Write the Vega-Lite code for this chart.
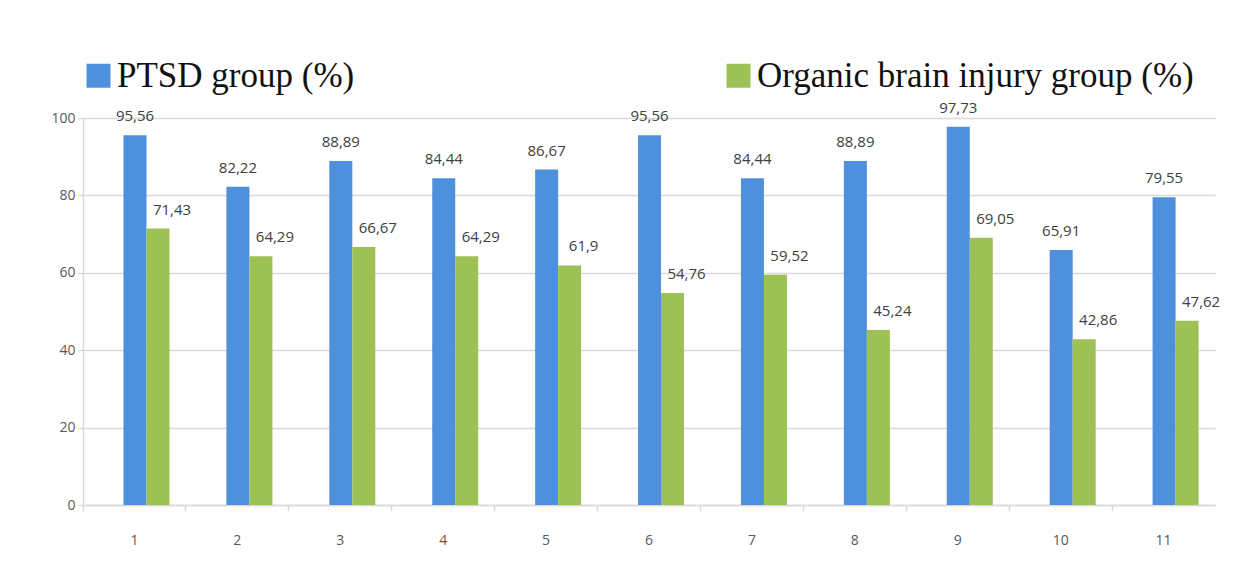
{
  "$schema": "https://vega.github.io/schema/vega-lite/v6.json",
  "width": 1132,
  "height": 387,
  "autosize": {"type": "none"},
  "padding": {"left": 83, "top": 118, "right": 24, "bottom": 64},
  "background": "#ffffff",
  "config": {
    "view": {"stroke": null},
    "locale": {"number": {"decimal": ",", "thousands": ".", "grouping": [3], "currency": ["", " €"]}}
  },
  "data": {
    "values": [
      {"item": 1, "group": "PTSD group (%)", "value": 95.56},
      {"item": 1, "group": "Organic brain injury group (%)", "value": 71.43},
      {"item": 2, "group": "PTSD group (%)", "value": 82.22},
      {"item": 2, "group": "Organic brain injury group (%)", "value": 64.29},
      {"item": 3, "group": "PTSD group (%)", "value": 88.89},
      {"item": 3, "group": "Organic brain injury group (%)", "value": 66.67},
      {"item": 4, "group": "PTSD group (%)", "value": 84.44},
      {"item": 4, "group": "Organic brain injury group (%)", "value": 64.29},
      {"item": 5, "group": "PTSD group (%)", "value": 86.67},
      {"item": 5, "group": "Organic brain injury group (%)", "value": 61.9},
      {"item": 6, "group": "PTSD group (%)", "value": 95.56},
      {"item": 6, "group": "Organic brain injury group (%)", "value": 54.76},
      {"item": 7, "group": "PTSD group (%)", "value": 84.44},
      {"item": 7, "group": "Organic brain injury group (%)", "value": 59.52},
      {"item": 8, "group": "PTSD group (%)", "value": 88.89},
      {"item": 8, "group": "Organic brain injury group (%)", "value": 45.24},
      {"item": 9, "group": "PTSD group (%)", "value": 97.73},
      {"item": 9, "group": "Organic brain injury group (%)", "value": 69.05},
      {"item": 10, "group": "PTSD group (%)", "value": 65.91},
      {"item": 10, "group": "Organic brain injury group (%)", "value": 42.86},
      {"item": 11, "group": "PTSD group (%)", "value": 79.55},
      {"item": 11, "group": "Organic brain injury group (%)", "value": 47.62}
    ]
  },
  "encoding": {
    "x": {
      "field": "item",
      "type": "ordinal",
      "scale": {"paddingInner": 0, "paddingOuter": 0},
      "axis": {
        "title": null,
        "labelAngle": 0,
        "bandPosition": 0,
        "grid": false,
        "domainColor": "#d9d9d9",
        "domainWidth": 1.5,
        "tickColor": "#d9d9d9",
        "tickWidth": 1.5,
        "tickSize": 6,
        "labelPadding": 22,
        "labelFont": "Open Sans",
        "labelFontSize": 14,
        "labelColor": "#595959"
      }
    },
    "xOffset": {
      "field": "group",
      "type": "nominal",
      "scale": {
        "domain": ["PTSD group (%)", "Organic brain injury group (%)"],
        "range": [40.5, 86.5],
        "paddingInner": 0,
        "paddingOuter": 0
      }
    },
    "y": {
      "field": "value",
      "type": "quantitative",
      "scale": {"domain": [0, 100], "nice": false},
      "axis": {
        "title": null,
        "values": [0, 20, 40, 60, 80, 100],
        "grid": true,
        "gridColor": "#d9d9d9",
        "gridWidth": 1.5,
        "domain": true,
        "domainColor": "#d9d9d9",
        "domainWidth": 1.5,
        "tickColor": "#d9d9d9",
        "tickWidth": 1.5,
        "tickSize": 5,
        "labelPadding": 3,
        "labelFont": "Open Sans",
        "labelFontSize": 14,
        "labelColor": "#595959"
      }
    }
  },
  "layer": [
    {
      "mark": {"type": "bar"},
      "encoding": {
        "color": {
          "field": "group",
          "type": "nominal",
          "scale": {
            "domain": ["PTSD group (%)", "Organic brain injury group (%)"],
            "range": ["#4f90dc", "#9dc155"]
          },
          "legend": {
            "orient": "none",
            "legendX": -2,
            "legendY": -60,
            "direction": "horizontal",
            "title": null,
            "symbolType": "square",
            "symbolSize": 576,
            "symbolStrokeWidth": 0,
            "symbolOpacity": 1,
            "labelFont": "Liberation Serif",
            "labelFontSize": 35,
            "labelColor": "#111111",
            "labelOffset": 1,
            "labelLimit": 0,
            "columnPadding": 366
          }
        }
      }
    },
    {
      "transform": [{"filter": "datum.group === 'PTSD group (%)'"}],
      "mark": {"type": "text", "baseline": "alphabetic", "dy": -14, "font": "Open Sans", "fontSize": 15, "color": "#404040"},
      "encoding": {"text": {"field": "value", "type": "quantitative", "format": ".4~r"}}
    },
    {
      "transform": [{"filter": "datum.group === 'Organic brain injury group (%)'"}],
      "mark": {"type": "text", "baseline": "alphabetic", "dx": 14, "dy": -14, "font": "Open Sans", "fontSize": 15, "color": "#404040"},
      "encoding": {"text": {"field": "value", "type": "quantitative", "format": ".4~r"}}
    }
  ]
}
